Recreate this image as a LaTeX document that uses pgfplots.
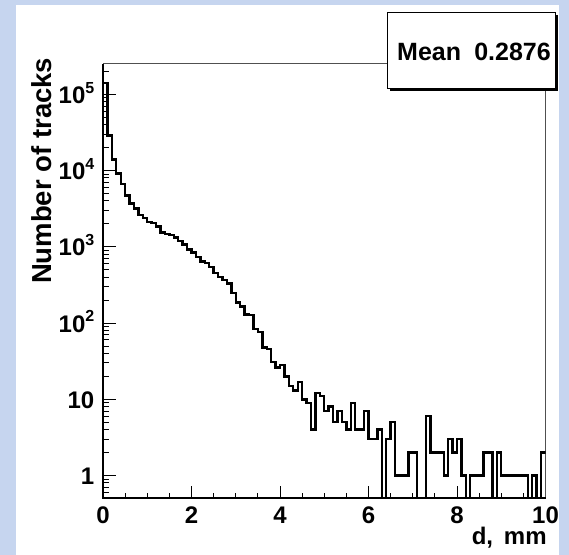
\documentclass[border=0pt]{standalone}
\usepackage{fontspec}
\setmainfont{Liberation Sans}
\usepackage{pgfplots}
\pgfplotsset{compat=1.18}
\definecolor{bgblue}{RGB}{198,213,239}
\definecolor{framegray}{RGB}{80,80,80}
\newcommand\expo[1]{\raisebox{0.42em}{\fontsize{16bp}{16bp}\selectfont #1}}
\pgfplotstableread{
x y
0.0 140000
0.1 29000
0.2 14000
0.3 9100
0.4 6700
0.5 4700
0.6 3700
0.7 3200
0.8 2600
0.9 2400
1.0 2100
1.1 2050
1.2 1850
1.3 1550
1.4 1480
1.5 1420
1.6 1320
1.7 1200
1.8 1070
1.9 920
2.0 845
2.1 740
2.2 640
2.3 615
2.4 540
2.5 455
2.6 400
2.7 365
2.8 330
2.9 250
3.0 185
3.1 165
3.2 130
3.3 128
3.4 83
3.5 77
3.6 48
3.7 46
3.8 31
3.9 26
4.0 28
4.1 20
4.2 15
4.3 13
4.4 17
4.5 10
4.6 9
4.7 4
4.8 12
4.9 11
5.0 7
5.1 8
5.2 5
5.3 7
5.4 5
5.5 4
5.6 9
5.7 4
5.8 4
5.9 7
6.0 3
6.1 3
6.2 4
6.3 0.5
6.4 3
6.5 5
6.6 1
6.7 1
6.8 1
6.9 2
7.0 2
7.1 0.5
7.2 0.5
7.3 6
7.4 2
7.5 2
7.6 2
7.7 1
7.8 3
7.9 2
8.0 3
8.1 1
8.2 0.5
8.3 1
8.4 1
8.5 1
8.6 2
8.7 2
8.8 0.5
8.9 2
9.0 1
9.1 1
9.2 1
9.3 1
9.4 1
9.5 1
9.6 0.5
9.7 1
9.8 0.5
9.9 2
10.0 2
}\histdata
\begin{document}
\begin{tikzpicture}[x=1bp,y=1bp]
\useasboundingbox (0,0) rectangle (569,555);
\fill[bgblue] (0,0) rectangle (569,555);
\fill[white] (16,0) rectangle (559,550);
\begin{axis}[
  at={(103bp,56.5bp)}, anchor=south west,
  scale only axis, width=442.5bp, height=434.5bp,
  xmin=0, xmax=10, ymode=log, ymin=0.5, ymax=2.5e5,
  axis line style={draw=framegray, line width=1bp},
  tick pos=left, tick align=inside,
  major tick length=13bp, minor tick length=6bp,
  every tick/.style={black, line width=1bp},
  xtick={0,2,4,6,8,10}, xticklabels={0,2,4,6,8,10},
  minor xtick={0.5,1,1.5,2.5,3,3.5,4.5,5,5.5,6.5,7,7.5,8.5,9,9.5},
  ytick={1,10,100,1000,10000,100000},
  yticklabels={1,10,10\expo{2},10\expo{3},10\expo{4},10\expo{5}},
  minor ytick={0.6,0.7,0.8,0.9,2,3,4,5,6,7,8,9,20,30,40,50,60,70,80,90,200,300,400,500,600,700,800,900,2000,3000,4000,5000,6000,7000,8000,9000,20000,30000,40000,50000,60000,70000,80000,90000,200000},
  ticklabel style={font=\fontsize{24bp}{24bp}\selectfont\bfseries, inner sep=0pt},
  xticklabel shift=8bp,
  yticklabel style={anchor=base east, yshift=-9bp},
  yticklabel shift=8.5bp,
  ylabel={Number of tracks},
  ylabel style={font=\fontsize{27.5bp}{27.5bp}\selectfont\bfseries, at={(axis description cs:-0.138,0.754)}, anchor=center},
  xlabel={d,\hspace{0.45em}mm},
  xlabel style={font=\fontsize{24bp}{24bp}\selectfont\bfseries, at={(axis description cs:1.003,-0.107)}, anchor=base east, inner sep=0pt},
  extra description/.code={\draw[black, line width=2bp] (axis description cs:0,1) -- (axis description cs:0,0) -- (axis description cs:1,0);},
]
\addplot[const plot, black, line width=2.4bp] table[x=x, y=y] {\histdata};
\end{axis}
\fill[black] (389.5,463.5) rectangle (557.5,539.5);
\filldraw[fill=white, draw=black, line width=1bp] (387,466) rectangle (555,542);
\node[anchor=base west, inner sep=0pt, font=\fontsize{25bp}{25bp}\selectfont\bfseries] at (397,494) {Mean};
\node[anchor=base east, inner sep=0pt, font=\fontsize{25bp}{25bp}\selectfont\bfseries] at (551,494) {0.2876};
\end{tikzpicture}
\end{document}
